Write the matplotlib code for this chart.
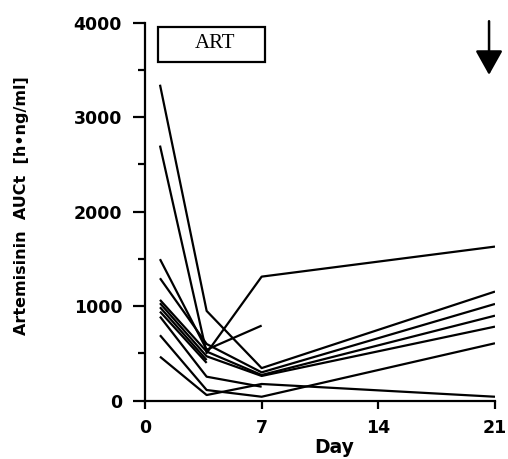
import numpy as np
import matplotlib
matplotlib.use("Agg")
import matplotlib.pyplot as plt
from matplotlib.patches import Rectangle

# sampling days
days = [0.9, 3.7, 7, 21]

# Artemisinin AUCt per patient (nan = no sample)
nan = np.nan
p1 = [3344, 950, 345, 1155]
p2 = [2700, 505, 1313, 1631]
p3 = [1498, 540, 795, nan]
p4 = [1296, 600, 300, 1024]
p5 = [1067, 520, 272, 900]
p6 = [1032, 470, 262, 784]
p7 = [989, 430, nan, nan]
p8 = [943, 400, nan, nan]
p9 = [890, 254, 148, nan]
p10 = [693, 113, 42, 608]
p11 = [466, 60, 177, 42]
patients = [p1, p2, p3, p4, p5, p6, p7, p8, p9, p10, p11]

xticks = [0, 7, 14, 21]
xtick_labels = ["0", "7", "14", "21"]
yticks = [0, 1000, 2000, 3000, 4000]

fig = plt.figure(figsize=(5.08, 4.59), dpi=100)
ax = fig.add_axes([0.2854, 0.127, 0.689, 0.8235])

for p in patients:
    ax.plot(days, p, color="black", lw=1.6, solid_capstyle="butt")

ax.set_xlim(0, 21)
ax.set_ylim(0, 4000)
ax.spines["top"].set_visible(False)
ax.spines["right"].set_visible(False)
for s in ("left", "bottom"):
    ax.spines[s].set_linewidth(1.6)

ax.set_xticks(xticks)
ax.set_xticklabels(xtick_labels)
ax.set_yticks(yticks)
ax.set_yticks([500, 1500, 2500, 3500], minor=True)
ax.tick_params(axis="y", which="major", direction="out", length=8.5, width=1.6, pad=8)
ax.tick_params(axis="y", which="minor", direction="out", length=5, width=1.6)
ax.tick_params(axis="x", which="major", direction="out", length=6, width=1.6, pad=7)
for lab in ax.get_xticklabels() + ax.get_yticklabels():
    lab.set_fontfamily("DejaVu Sans")
    lab.set_fontweight("bold")
    lab.set_fontsize(12.5)

ax.set_xlabel("Day", fontfamily="DejaVu Sans", fontweight="bold", fontsize=13.5)
ax.xaxis.set_label_coords(0.54, -0.150)
ax.xaxis.label.set_va("bottom")
ax.set_ylabel("Artemisinin  AUCt  [h\u2022ng/ml]", fontfamily="DejaVu Sans",
              fontweight="bold", fontsize=11.5)
ax.yaxis.set_label_coords(-0.33, 0.515)

# ART label box
ax.add_patch(Rectangle((0.037, 0.896), 0.306, 0.093, transform=ax.transAxes,
                       fill=False, edgecolor="black", lw=1.6, clip_on=False))
ax.text(0.2, 0.944, "ART", transform=ax.transAxes, ha="center", va="center",
        fontfamily="Liberation Serif", fontsize=15)

# arrow
ax.annotate("", xy=(0.983, 0.862), xytext=(0.983, 1.004),
            xycoords="axes fraction", textcoords="axes fraction",
            arrowprops=dict(arrowstyle="-|>,head_length=0.75,head_width=0.42",
                            lw=1.8, color="black", mutation_scale=20,
                            shrinkA=0, shrinkB=0))

fig.savefig("out.png", dpi=100)
